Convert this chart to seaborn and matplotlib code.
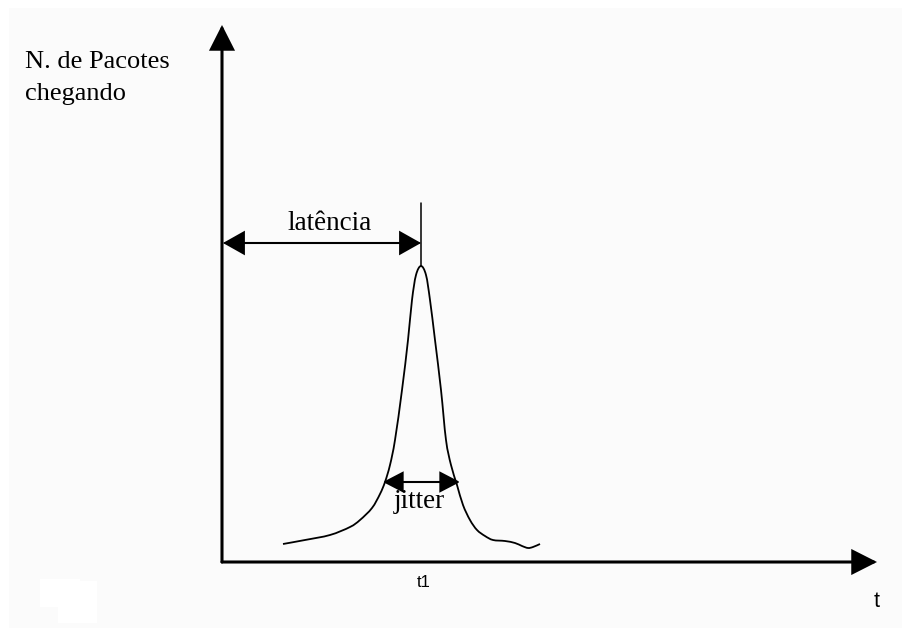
import matplotlib
matplotlib.use("Agg")
import matplotlib.pyplot as plt
from matplotlib.patches import FancyArrowPatch, Rectangle, PathPatch
from matplotlib.path import Path
import numpy as np
import pandas as pd
import seaborn as sns

sns.set_theme(style="white")
plt.rcParams["font.family"] = ["Liberation Serif", "DejaVu Serif"]
plt.rcParams["text.color"] = "black"

# Arrival curve: number of packets arriving over time (t measured from the origin)
t_values = [61, 83, 108, 128, 138, 150, 158, 163, 168, 173, 180, 186, 190, 194,
            199, 204, 208, 213, 219, 224, 229, 235, 241, 248, 255, 263, 271,
            283, 293, 300, 306, 311, 318]
n_values = [18, 22, 27, 35, 42, 54, 68, 80, 97, 122, 172, 222, 262, 287,
            296, 287, 262, 222, 172, 122, 97, 77, 57, 42, 32, 26, 22,
            21, 19, 16, 14, 15, 18]

t1 = 199            # instant of the peak
t_axis_end = 655    # length of the time axis
n_axis_end = 537    # height of the packet-count axis
latency_y = 319     # height of the latency dimension line
marker_top = 359    # top of the vertical marker at t1
jitter_left, jitter_right, jitter_y = 161, 238, 80

y_label_lines = ["N. de Pacotes", "chegando"]
latency_label = "latência"
jitter_label = "jitter"
t1_label = "t1"
time_label = "t"

df = pd.DataFrame({"t": t_values, "n": n_values})

fig = plt.figure(figsize=(9.02, 6.28), dpi=100, facecolor="white")
# light page background with a thin white margin on top/left
fig.patches.append(Rectangle((9 / 902, 0), 1, 1 - 8 / 628, transform=fig.transFigure,
                             facecolor="#fbfbfb", edgecolor="none", zorder=-10))
fig.patches.append(Rectangle((40 / 902, 1 - 607 / 628), 40 / 902, 28 / 628,
                             transform=fig.transFigure, facecolor="white",
                             edgecolor="none", zorder=-9))
fig.patches.append(Rectangle((58 / 902, 1 - 623 / 628), 39 / 902, 42 / 628,
                             transform=fig.transFigure, facecolor="white",
                             edgecolor="none", zorder=-9))

ax = fig.add_axes([0, 0, 1, 1])
ax.set_xlim(-222, 680)
ax.set_ylim(-66, 562)
ax.axis("off")
ax.patch.set_alpha(0)


def smooth_path(x, y):
    """Catmull-Rom curve through the points, expressed as cubic Bezier segments."""
    pts = np.column_stack([x, y]).astype(float)
    ext = np.vstack([pts[0], pts, pts[-1]])
    verts = [pts[0]]
    codes = [Path.MOVETO]
    for i in range(1, len(ext) - 2):
        p0, p1, p2, p3 = ext[i - 1], ext[i], ext[i + 1], ext[i + 2]
        verts += [p1 + (p2 - p0) / 6, p2 - (p3 - p1) / 6, p2]
        codes += [Path.CURVE4] * 3
    return Path(verts, codes)


ax.add_patch(PathPatch(smooth_path(df["t"], df["n"]), facecolor="none",
                       edgecolor="black", linewidth=1.3))


def arrow(p0, p1, style, lw):
    ax.add_patch(FancyArrowPatch(p0, p1, arrowstyle=style, mutation_scale=1,
                                 shrinkA=0, shrinkB=0, color="black",
                                 linewidth=lw, joinstyle="miter"))


# axes with arrow heads
axis_head = "-|>,head_length=15,head_width=7.6"
arrow((0, 0), (0, n_axis_end), axis_head, 2.2)
arrow((0, 0), (t_axis_end, 0), axis_head, 2.2)

# latency dimension line and marker at t1
arrow((1, latency_y), (t1, latency_y), "<|-|>,head_length=13.5,head_width=7.6", 1.5)
ax.plot([t1, t1], [296, marker_top], color="black", linewidth=1.1)

# jitter dimension line
arrow((jitter_left, jitter_y), (jitter_right, jitter_y),
      "<|-|>,head_length=12.5,head_width=6.5", 1.5)

# labels
ax.text(-197, 494, y_label_lines[0], fontsize=19, ha="left", va="baseline")
ax.text(-197, 462, y_label_lines[1], fontsize=19, ha="left", va="baseline")
ax.text(108, 332, latency_label, fontsize=19.5, ha="center", va="baseline")
ax.text(197, 54, jitter_label, fontsize=19.5, ha="center", va="baseline")
ax.text(202, -25, t1_label, fontsize=12, ha="center", va="baseline",
        family=["Liberation Sans", "DejaVu Sans"])
ax.text(655, -45, time_label, fontsize=15.5, ha="center", va="baseline",
        family=["Liberation Sans", "DejaVu Sans"])

fig.savefig("out.png", dpi=100, facecolor=fig.get_facecolor())
